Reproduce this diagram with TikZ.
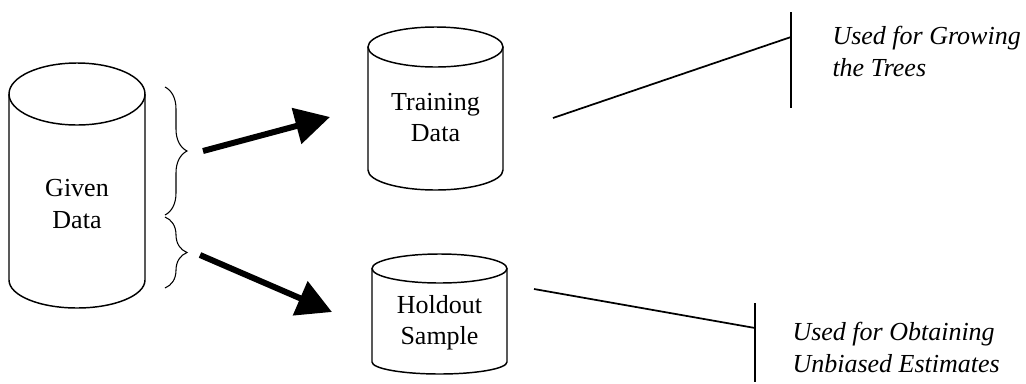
\documentclass[tikz,border=0pt]{standalone}
\usepackage{fontspec}
\setmainfont{Liberation Serif}
\newfontfamily\timesfont{Liberation Serif}
\usetikzlibrary{arrows.meta,decorations.pathreplacing}

\tikzset{every picture/.style={line width=0.75pt}}
\tikzset{
  drum/.style={line width=1.1pt},
  lbl/.style={align=center, inner sep=0.75pt, font=\timesfont\fontsize{19.5}{23.5}\selectfont},
  note/.style={align=left, anchor=west, inner sep=0.75pt, font=\timesfont\itshape\fontsize{19.5}{23.5}\selectfont},
  fat/.style={line width=4.5pt, -{Triangle[length=26pt,width=27pt]}},
  lead/.style={line width=1.3pt},
  bracket/.style={decorate, decoration={brace, amplitude=16.5pt}, line width=0.8pt}
}

\begin{document}
\begin{tikzpicture}[x=0.75pt,y=0.75pt,yscale=-1,xscale=1]
	\useasboundingbox (0,0) rectangle (1026,383);
	
	%Cylinders
	\draw [drum] (77,94) ellipse [x radius=68, y radius=31];
	\draw [drum] (9,94) -- (9,280) arc [start angle=180, end angle=0, x radius=68, y radius=28] -- (145,94);
	\draw [drum] (435.5,47) ellipse [x radius=67.5, y radius=20];
	\draw [drum] (368,47) -- (368,170) arc [start angle=180, end angle=0, x radius=67.5, y radius=20] -- (503,47);
	\draw [drum] (439.5,268.5) ellipse [x radius=67.5, y radius=14.5];
	\draw [drum] (372,268.5) -- (372,362) arc [start angle=180, end angle=0, x radius=67.5, y radius=12] -- (507,268.5);
	
	%Texts in the cylinders
	\node [lbl] (given) at (77,204) {Given\\Data};
	\node [lbl] (train) at (435.5,117.5) {Training\\Data};
	\node [lbl] (hold) at (439.5,323) {Holdout\\Sample};
	
	%Braces
	\coordinate (brace1 top) at (165,87);
	\coordinate (brace1 bot) at (165,215);
	\coordinate (brace2 top) at (165,217);
	\coordinate (brace2 bot) at (165,288);
	\draw [bracket] (brace1 top) -- (brace1 bot);
	\draw [bracket] (brace2 top) -- (brace2 bot);
	
	%Arrows
	\coordinate (split1) at (203,151);
	\coordinate (split2) at (200,255);
	\coordinate (to train) at (330,117);
	\coordinate (to hold) at (332,312);
	\draw [fat] (split1) -- (to train);
	\draw [fat] (split2) -- (to hold);
	
	%Leader lines
	\coordinate (train out) at (553,118);
	\coordinate (grow bar) at (791,37);
	\coordinate (grow top) at (791,12);
	\coordinate (grow bot) at (791,108);
	\draw [lead] (train out) -- (grow bar);
	\draw [lead] (grow top) -- (grow bot);
	
	\coordinate (hold out) at (534,289);
	\coordinate (est bar) at (755,328);
	\coordinate (est top) at (755,303);
	\coordinate (est bot) at (755,382);
	\draw [lead] (hold out) -- (est bar);
	\draw [lead] (est top) -- (est bot);
	
	%Notes
	\node [note] (grow) at (831,51.5) {Used for Growing\\the Trees};
	\node [note] (est) at (791,347.5) {Used for Obtaining\\Unbiased Estimates};
	
\end{tikzpicture}
\end{document}
